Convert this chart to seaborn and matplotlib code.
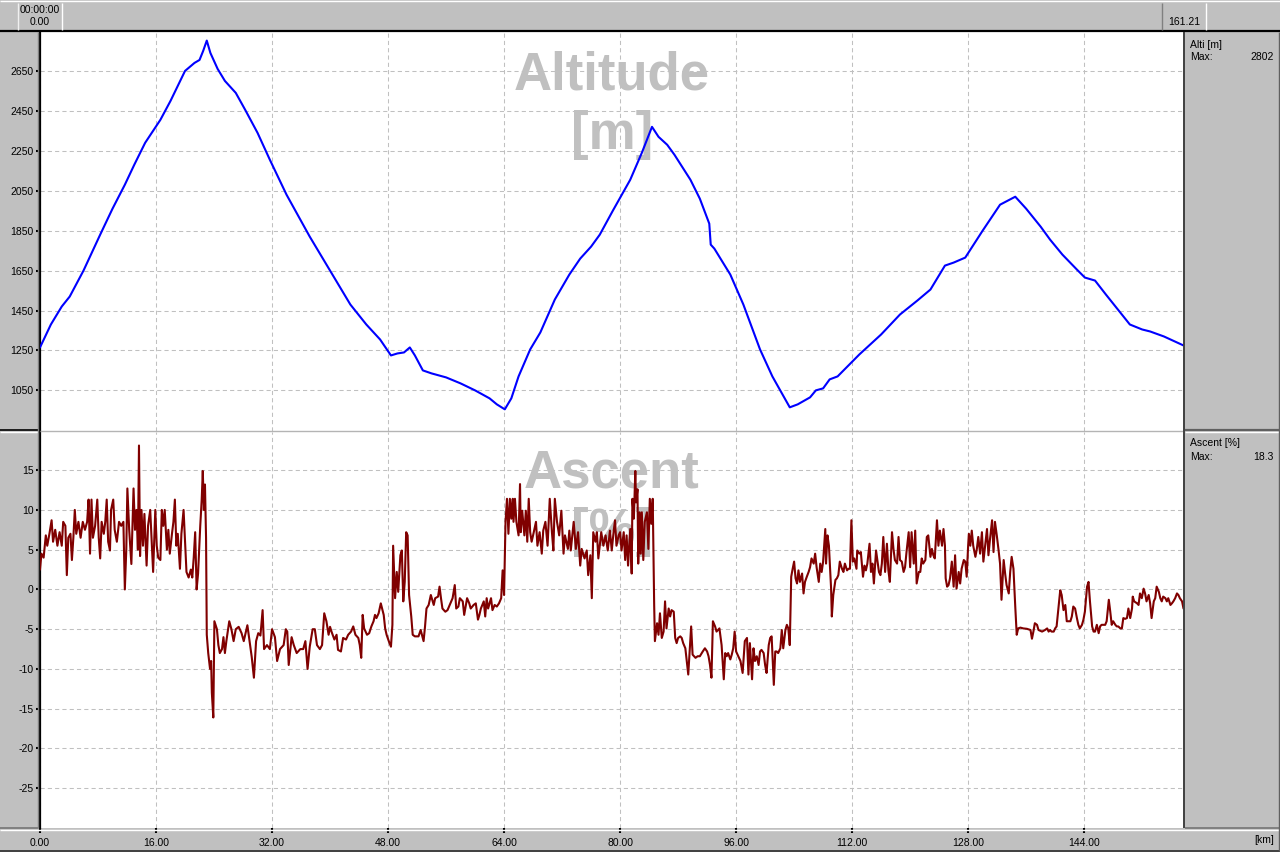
import numpy as np
import pandas as pd
import matplotlib
matplotlib.use("Agg")
import matplotlib.pyplot as plt
import seaborn as sns
from matplotlib.lines import Line2D

# ---------------- data ----------------
alt_km = [0, 1.5, 3, 4.1, 6, 8.3, 10, 11.7, 13, 14.5, 16.6, 18, 20, 21.3, 22.0, 22.5, 23.0,
          23.5, 24.5, 25.5, 27, 28.3, 30, 31.7, 34, 37.2, 40, 42.8, 45, 46.9, 48.4, 49.3,
          50.2, 51.0, 51.7, 52.8, 54, 56, 58, 60, 62, 63, 64.1, 65, 66, 67.6, 69, 71, 73,
          74.5, 76, 77.2, 79, 81.4, 83, 84.4, 85.3, 86.5, 87.5, 89.7, 91, 92.3, 92.5, 93,
          95.2, 97, 99.3, 101, 103.4, 104.5, 106.2, 107, 108, 108.9, 110, 113, 116, 118.6,
          121, 122.8, 124.8, 126, 127.6, 130, 132.4, 134.5, 136, 138, 139.3, 141, 143, 144.1,
          145.5, 147, 150.3, 152, 153.1, 155, 157.7]
alt_m = [1265, 1380, 1470, 1520, 1650, 1830, 1960, 2080, 2180, 2290, 2405, 2500, 2650, 2690,
         2705, 2750, 2802, 2740, 2660, 2600, 2540, 2455, 2340, 2205, 2030, 1820, 1650, 1480,
         1380, 1305, 1225, 1235, 1240, 1265, 1225, 1150, 1135, 1115, 1085, 1050, 1010, 980,
         955, 1010, 1120, 1255, 1340, 1505, 1630, 1710, 1770, 1830, 1950, 2105, 2240, 2370,
         2320, 2280, 2230, 2105, 2010, 1885, 1780, 1760, 1630, 1480, 1255, 1120, 965, 980,
         1015, 1050, 1060, 1105, 1120, 1230, 1330, 1430, 1500, 1555, 1675, 1690, 1715, 1850,
         1980, 2020, 1960, 1870, 1805, 1730, 1655, 1615, 1600, 1530, 1380, 1355, 1345, 1320,
         1275]

asc_km = [
    0.0, 0.2, 0.5, 0.8, 1.0, 1.3, 1.6, 1.8, 2.1, 2.4, 2.7, 3.0, 3.2, 3.5, 3.7, 3.9, 4.2, 4.4,
    4.6, 4.8, 5.0, 5.3, 5.6, 5.9, 6.2, 6.5, 6.7, 6.9, 7.1, 7.3, 7.6, 7.9, 8.1, 8.3, 8.5, 8.8,
    9.0, 9.2, 9.4, 9.65, 9.8, 10.1, 10.3, 10.6, 10.9, 11.2, 11.5, 11.7, 11.9, 12.05, 12.3,
    12.6, 12.9, 13.1, 13.3, 13.5, 13.65, 13.8, 14.0, 14.2, 14.4, 14.7, 14.9, 15.2, 15.4, 15.6,
    15.9, 16.1, 16.3, 16.6, 16.8, 17.0, 17.2, 17.5, 17.7, 17.9, 18.2, 18.4, 18.6, 18.8, 19.0,
    19.3, 19.5, 19.8, 20.0, 20.2, 20.5, 20.8, 21.0, 21.2, 21.4, 21.6, 21.8, 22.1, 22.3, 22.45,
    22.6, 22.75, 22.9, 23.0, 23.2, 23.45, 23.6, 23.7, 23.9, 24.05, 24.4, 24.6, 24.8, 25.1,
    25.3, 25.5, 25.7, 26.1, 26.4, 26.7, 27.0, 27.4, 27.8, 28.1, 28.6, 28.9, 29.2, 29.5, 29.8,
    30.1, 30.4, 30.7, 30.9, 31.3, 31.7, 32.0, 32.4, 32.7, 33.1, 33.6, 33.9, 34.1, 34.3, 34.7,
    35.0, 35.4, 35.9, 36.3, 36.6, 36.9, 37.2, 37.6, 37.9, 38.2, 38.6, 38.9, 39.2, 39.5, 39.8,
    40.0, 40.2, 40.6, 40.9, 41.1, 41.5, 41.8, 42.2, 42.5, 42.9, 43.2, 43.5, 43.9, 44.1, 44.3,
    44.5, 44.7, 45.1, 45.4, 45.7, 46.0, 46.2, 46.4, 46.7, 47.0, 47.4, 47.6, 47.8, 48.1, 48.4,
    48.6, 48.7, 48.97, 49.2, 49.4, 49.7, 49.9, 50.1, 50.3, 50.5, 50.7, 50.9, 51.2, 51.4, 51.7,
    52.2, 52.5, 52.9, 53.1, 53.3, 53.6, 53.9, 54.3, 54.5, 54.9, 55.1, 55.3, 55.5, 55.9, 56.2,
    56.6, 56.9, 57.2, 57.4, 57.7, 57.9, 58.3, 58.5, 58.9, 59.2, 59.4, 59.8, 60.1, 60.4, 60.6,
    60.8, 61.2, 61.4, 61.6, 61.8, 62.2, 62.4, 62.7, 63.0, 63.3, 63.6, 63.8, 64.0, 64.2, 64.4,
    64.6, 64.8, 65.0, 65.2, 65.3, 65.5, 65.7, 66.0, 66.2, 66.3, 66.5, 66.8, 67.0, 67.2, 67.4,
    67.6, 67.8, 68.0, 68.4, 68.6, 68.9, 69.2, 69.4, 69.7, 70.0, 70.3, 70.6, 70.8, 71.0, 71.3,
    71.6, 71.9, 72.2, 72.4, 72.8, 73.0, 73.2, 73.6, 73.9, 74.2, 74.5, 74.7, 75.1, 75.4, 75.6,
    75.9, 76.1, 76.3, 76.6, 76.8, 77.0, 77.4, 77.7, 78.0, 78.3, 78.6, 78.85, 79.1, 79.3, 79.5,
    79.8, 80.0, 80.2, 80.5, 80.7, 80.9, 81.1, 81.4, 81.6, 81.7, 81.9, 82.1, 82.2, 82.4, 82.5,
    82.7, 82.85, 83.0, 83.2, 83.4, 83.7, 83.9, 84.1, 84.3, 84.5, 84.7, 84.8, 85.1, 85.3, 85.5,
    85.75, 86.0, 86.2, 86.4, 86.7, 86.9, 87.1, 87.4, 87.6, 87.8, 88.0, 88.3, 88.5, 88.7, 89.0,
    89.2, 89.4, 89.7, 89.8, 90.0, 90.4, 90.7, 91.0, 91.4, 91.7, 92.0, 92.2, 92.4, 92.6, 92.8,
    93.1, 93.3, 93.7, 94.0, 94.3, 94.5, 94.7, 94.9, 95.2, 95.4, 95.6, 95.8, 96.0, 96.3, 96.6,
    96.9, 97.2, 97.5, 97.7, 97.9, 98.2, 98.4, 98.6, 98.85, 99.1, 99.3, 99.5, 99.8, 100.0,
    100.2, 100.5, 100.7, 100.9, 101.2, 101.4, 101.6, 101.8, 102.1, 102.3, 102.5, 102.8, 103.0,
    103.2, 103.4, 103.6, 103.8, 104.0, 104.2, 104.4, 104.6, 104.8, 105.1, 105.3, 105.5,
    105.75, 106.0, 106.2, 106.4, 106.7, 106.9, 107.1, 107.4, 107.6, 107.8, 108.0, 108.3,
    108.4, 108.6, 108.8, 109.1, 109.2, 109.4, 109.7, 109.9, 110.1, 110.3, 110.6, 110.8, 111.0,
    111.3, 111.5, 111.7, 111.9, 112.1, 112.3, 112.6, 112.7, 113.0, 113.2, 113.5, 113.7, 113.9,
    114.1, 114.4, 114.6, 114.8, 115.0, 115.3, 115.5, 115.7, 115.9, 116.1, 116.3, 116.55,
    116.8, 117.0, 117.2, 117.5, 117.7, 117.9, 118.2, 118.4, 118.6, 118.85, 119.1, 119.3,
    119.5, 119.8, 120.0, 120.2, 120.5, 120.7, 120.9, 121.2, 121.4, 121.6, 121.8, 122.1, 122.3,
    122.5, 122.8, 123.0, 123.2, 123.4, 123.7, 123.9, 124.1, 124.4, 124.6, 124.8, 124.9, 125.1,
    125.3, 125.5, 125.75, 126.0, 126.2, 126.4, 126.7, 126.9, 127.1, 127.4, 127.6, 127.8,
    128.0, 128.1, 128.3, 128.5, 128.7, 129.0, 129.2, 129.4, 129.65, 129.9, 130.1, 130.3,
    130.6, 130.8, 131.0, 131.3, 131.5, 131.7, 131.95, 132.2, 132.4, 132.6, 132.9, 133.1,
    133.3, 133.6, 133.8, 134.0, 134.25, 134.5, 134.7, 134.9, 135.2, 135.6, 136.1, 136.6,
    136.8, 137.0, 137.2, 137.5, 137.7, 138.2, 138.6, 138.9, 139.1, 139.3, 139.5, 139.8, 140.0,
    140.2, 140.5, 140.7, 140.9, 141.15, 141.4, 141.6, 141.85, 142.1, 142.3, 142.5, 142.75,
    143.0, 143.2, 143.4, 143.7, 143.9, 144.1, 144.4, 144.6, 144.8, 145.1, 145.3, 145.5,
    145.75, 146.0, 146.2, 146.4, 146.7, 146.9, 147.1, 147.4, 147.6, 147.8, 148.0, 148.3,
    148.5, 148.7, 149.0, 149.2, 149.4, 149.65, 149.9, 150.1, 150.35, 150.6, 150.7, 150.9,
    151.3, 151.5, 151.7, 151.95, 152.2, 152.4, 152.6, 152.9, 153.1, 153.3, 153.6, 153.8,
    154.0, 154.3, 154.5, 154.7, 154.9, 155.2, 155.4, 155.6, 155.9, 156.1, 156.3, 156.55,
    156.8, 157.0, 157.2, 157.5, 157.7]
asc_pct = [
    2.5, 4.5, 4.0, 6.8, 5.5, 7.0, 8.7, 6.0, 7.5, 5.5, 7.2, 5.5, 8.5, 8.0, 1.8, 6.5, 7.0, 3.7,
    6.5, 10.0, 7.0, 8.5, 6.5, 8.5, 7.5, 8.5, 11.3, 4.5, 11.3, 6.5, 8.0, 11.3, 6.5, 3.9, 8.5, 7.0,
    8.5, 11.3, 6.0, 4.9, 10.0, 11.3, 7.5, 6.0, 8.5, 8.0, 8.5, 0.0, 5.0, 12.7, 7.5,
    3.2, 12.7, 7.5, 10.0, 5.0, 18.1, 4.2, 10.0, 5.5, 9.5, 3.0, 8.0, 10.0, 6.0, 2.2,
    10.0, 5.5, 4.0, 3.7, 10.0, 8.0, 10.0, 5.0, 7.5, 4.5, 7.0, 8.5, 11.3, 5.5, 7.0,
    2.6, 7.0, 10.0, 6.0, 2.2, 1.5, 2.5, 1.5, 4.0, 7.2, 0.0, 2.0, 8.0, 11.3, 14.9,
    10.0, 13.2, 6.5, -5.7, -8.0, -10.0, -9.0, -13.0, -16.1, -4.0, -5.0, -7.0, -8.0, -7.5,
    -6.0, -8.0, -6.5, -4.0, -5.0, -6.5, -5.0, -4.7, -5.5, -6.5, -4.5, -6.5, -8.5, -11.1, -6.5,
    -5.5, -5.8, -2.6, -7.5, -7.0, -7.5, -5.0, -6.0, -9.0, -7.5, -7.0, -5.0, -5.3, -9.5, -6.0,
    -7.0, -8.0, -7.5, -7.5, -6.5, -10.0, -7.2, -5.0, -5.0, -7.0, -7.5, -7.0, -3.0, -4.0, -5.7,
    -4.7, -5.3, -6.3, -5.7, -7.6, -7.8, -6.1, -6.3, -5.7, -5.3, -4.65, -5.7, -6.1, -7.0, -8.6,
    -3.2, -4.9, -5.7, -5.5, -4.65, -4.0, -3.2, -3.6, -3.0, -1.75, -3.2, -4.9, -5.7, -6.5, -7.2,
    -4.45, 5.5, -1.1, 2.2, -0.3, 4.3, 4.9, -1.5, 0.95, 7.2, 6.8, -0.7, -3.4, -5.7, -5.9,
    -5.9, -5.1, -6.5, -4.65, -2.4, -1.95, -0.7, -1.95, -1.1, -0.9, 0.35, -1.1, -2.4, -2.8, -2.6,
    -1.75, -1.1, 0.55, -2.4, -2.15, -1.1, -1.5, -3.2, -1.1, -1.75, -2.4, -1.95, -1.75, -3.8, -3.2,
    -2.4, -1.5, -3.4, -1.1, -2.4, -1.1, -2.6, -1.95, -2.15, -1.75, -1.1, 2.4, -0.7, 8.5, 11.4,
    7.0, 11.4, 8.9, 11.4, 8.5, 11.4, 8.5, 6.8, 13.25, 7.2, 9.9, 6.8, 9.9, 6.0, 11.4,
    7.2, 6.0, 6.8, 8.5, 5.5, 7.2, 4.5, 7.4, 8.5, 5.5, 11.4, 7.2, 4.9, 11.4, 8.5,
    6.8, 9.9, 4.5, 6.8, 5.1, 7.4, 4.9, 8.5, 5.1, 7.2, 3.0, 5.1, 3.9, 4.9, 1.8,
    4.3, -1.1, 7.2, 6.0, 7.2, 3.9, 7.2, 5.5, 6.8, 4.9, 7.4, 4.9, 7.2, 8.7, 5.5,
    6.8, 7.2, 4.9, 7.2, 3.7, 6.8, 3.0, 7.6, 2.0, 11.4, 8.9, 14.9, 10.95, 12.6, 3.25,
    9.7, 4.5, 9.7, 3.7, 8.5, 9.7, 5.1, 11.4, 8.25, 11.4, -1.95, -6.5, -4.25, -5.7, -3.0,
    -6.1, -5.3, -1.5, -4.9, -2.4, -3.4, -2.6, -2.8, -6.1, -6.75, -6.1, -5.9, -6.1, -6.75, -7.4,
    -9.0, -10.7, -6.3, -4.65, -8.2, -8.6, -8.4, -8.4, -7.8, -7.4, -7.8, -8.4, -9.5, -11.1, -4.0,
    -4.65, -5.3, -4.9, -7.0, -11.3, -8.0, -8.4, -8.0, -8.8, -8.2, -7.4, -5.3, -7.8, -8.4, -9.0,
    -10.5, -6.5, -6.1, -10.7, -6.75, -11.3, -7.4, -9.0, -8.4, -9.5, -7.8, -7.6, -8.0, -9.5,
    -10.5, -7.0, -6.1, -5.9, -12.0, -7.8, -7.8, -8.0, -7.4, -5.1, -7.4, -5.1, -4.45,
    -4.9, -7.0, 1.6, 2.6, 3.5, 1.4, 0.75, 2.4, 0.95, 2.0, -0.5, 0.95,
    1.6, 2.2, 2.8, 3.9, 3.25, 4.5, 2.8, 0.95, 3.25, 2.2, 3.5, 7.6,
    3.25, 6.8, 5.5, 0.1, -3.4, -0.7, 1.2, 1.4, 1.8, 3.5, 2.6, 2.2, 3.25,
    2.4, 2.6, 2.6, 8.7, 3.5, 3.9, 2.6, 4.9, 4.5, 4.7, 1.6, 3.0, 2.4,
    3.25, 5.75, 2.2, 3.25, 0.75, 4.9, 3.5, 2.2, 1.8, 3.25, 6.6, 2.2,
    5.75, 2.4, 0.95, 7.2, 5.1, 3.7, 3.25, 6.6, 3.7, 3.5, 2.2, 2.8,
    4.7, 7.2, 2.8, 7.2, 3.25, 7.4, 0.75, 2.2, 2.2, 3.9, 3.25, 3.7, 6.6,
    6.8, 4.1, 5.1, 4.3, 3.9, 8.7, 5.5, 7.4, 5.5, 7.6, 5.5, 1.4, 0.35,
    0.55, 1.4, 3.5, 0.35, 4.3, 0.1, 2.2, 0.75, 2.6, 3.7, 3.5, 1.6,
    5.5, 7.0, 5.5, 7.4, 5.5, 4.1, 5.1, 6.6, 4.5, 7.2, 3.5, 5.1,
    7.6, 4.3, 6.2, 8.7, 4.7, 8.5, 6.8, 4.9, 3.25, -1.3, 3.7, 2.0,
    0.55, -0.5, 2.2, 4.1, 2.6, -2.2, -5.7, -4.9, -4.8, -4.9, -4.95, -5.1,
    -6.2, -5.3, -4.25, -4.45, -5.1, -5.3, -5.1, -4.9, -5.3, -5.1, -5.3, -5.3, -4.9,
    -4.65, -1.95, -0.1, -0.7, -2.6, -1.95, -4.0, -4.0, -4.0, -3.4, -2.15, -2.4,
    -3.6, -4.45, -4.9, -4.45, -3.8, -2.8, 0.35, 0.95, -1.5, -4.65, -5.3, -5.3,
    -4.45, -5.5, -4.65, -4.45, -4.45, -4.45, -4.0, -1.3, -2.8, -4.45, -4.0, -4.45,
    -4.65, -4.65, -4.9, -4.9, -3.6, -3.7, -3.6, -2.4, -3.6, -2.4, -0.9, -1.5,
    -1.75, -1.95, -0.5, -1.1, 0.1, -0.5, -1.5, -0.7, -1.75, -3.6, -1.5, -1.1,
    0.35, -0.3, -1.1, -1.5, -0.9, -1.1, -1.5, -1.1, -1.95, -1.75, -1.5, -1.1,
    -0.5, -0.7, -1.1, -1.5, -2.4]

alt_ticks = [1050, 1250, 1450, 1650, 1850, 2050, 2250, 2450, 2650]
asc_ticks = [-25, -20, -15, -10, -5, 0, 5, 10, 15]
km_ticks = [0, 16, 32, 48, 64, 80, 96, 112, 128, 144]
km_max = 157.7
start_time = "00:00:00"
start_dist = "0.00"
total_dist = "161.21"
alt_label = "Alti [m]"
alt_max = "2802"
asc_label = "Ascent [%]"
asc_max = "18.3"

# ---------------- figure ----------------
sns.set_style("white")
plt.rcParams['font.family'] = ['Liberation Sans', 'DejaVu Sans']

W, H = 1280, 852
GRAY = '#c0c0c0'
fig = plt.figure(figsize=(12.8, 8.52), dpi=100, facecolor=GRAY)


def add_ax(x0, y0, x1, y1):
    return fig.add_axes([x0 / W, 1 - y1 / H, (x1 - x0) / W, (y1 - y0) / H])


def hline(y, x0, x1, color, lw):
    fig.add_artist(Line2D([x0 / W, x1 / W], [1 - y / H, 1 - y / H], color=color, lw=lw,
                          transform=fig.transFigure, solid_capstyle='butt'))


def vline(x, y0, y1, color, lw):
    fig.add_artist(Line2D([x / W, x / W], [1 - y0 / H, 1 - y1 / H], color=color, lw=lw,
                          transform=fig.transFigure, solid_capstyle='butt'))


def ftext(x, y, s, ha='left', size=7.5, **kw):
    fig.text(x / W, 1 - y / H, s, ha=ha, va='center', fontsize=size, color='black', **kw)


ax1 = add_ax(40, 32, 1183.5, 430.5)
ax2 = add_ax(40, 432, 1183.5, 828)

df_alt = pd.DataFrame({'km': alt_km, 'alt': alt_m})
df_asc = pd.DataFrame({'km': asc_km, 'asc': asc_pct})

for ax in (ax1, ax2):
    ax.set_facecolor('white')
    ax.set_axisbelow(True)
    ax.grid(True, color=GRAY, linestyle=(0, (4, 3)), linewidth=0.75, zorder=0.5)
    ax.set_xlim(0, km_max)
    ax.set_xticks(km_ticks)
    for s in ('top', 'right', 'bottom'):
        ax.spines[s].set_visible(False)
    ax.spines['left'].set_color('black')
    ax.spines['left'].set_linewidth(1.6)
    ax.tick_params(axis='y', direction='out', length=3, width=1.5, pad=1.5,
                   labelsize=7.5, colors='black', left=True)

sns.lineplot(data=df_alt, x='km', y='alt', ax=ax1, color='#0000ff', linewidth=1.5,
             estimator=None, sort=False, zorder=3)
sns.lineplot(data=df_asc, x='km', y='asc', ax=ax2, color='#800000', linewidth=1.5,
             estimator=None, sort=False, zorder=3)

ax1.set_ylim(849, 2845)
ax1.set_yticks(alt_ticks)
ax1.set_yticklabels([str(t) for t in alt_ticks])
ax1.tick_params(axis='x', length=0, labelbottom=False)
ax1.set_xlabel('')
ax1.set_ylabel('')

ax2.set_ylim(-30.0, 19.8)
ax2.set_yticks(asc_ticks)
ax2.set_yticklabels([str(t) for t in asc_ticks])
ax2.set_xticklabels([f"{t:.2f}" for t in km_ticks])
ax2.tick_params(axis='x', direction='out', length=3.5, width=1.5, pad=3.5,
                labelsize=7.5, colors='black', bottom=True)
ax2.set_xlabel('')
ax2.set_ylabel('')

# watermark titles (behind the data lines)
wm = dict(ha='center', va='baseline', fontsize=38, fontweight='bold', color=GRAY,
          transform=fig.transFigure, zorder=1, clip_on=False)
ax1.text(612 / W, 1 - 90 / H, 'Altitude', **wm)
ax1.text(612 / W, 1 - 149 / H, '[m]', **wm)
ax2.text(612 / W, 1 - 487 / H, 'Ascent', **wm)
ax2.text(612 / W, 1 - 546 / H, '[%]', **wm)

# ---------------- frame / bevels ----------------
hline(1, 0, W, 'white', 1)
hline(31, 0, W, 'black', 1.6)
vline(18, 3, 30, '#f0f0f0', 1)
vline(62, 3, 30, 'white', 1)
vline(1162, 3, 30, '#808080', 1)
vline(1206, 3, 30, 'white', 1)

hline(430.7, 40, 1184, '#b4b4b4', 1)
hline(429.5, 0, 38, 'black', 1.2)
hline(431.5, 0, 38, 'white', 1)
hline(429.5, 1185, W, '#606060', 1.6)
hline(431.8, 1185, W, 'white', 1)
vline(37.5, 32, 828, '#808080', 1)
vline(1184.3, 32, 828, '#404040', 1.4)
hline(827.5, 0, 38, '#808080', 1.4)
hline(827.5, 1185, W, '#808080', 1.4)
hline(829.5, 0, W, 'white', 1)
hline(850.5, 0, W, '#404040', 1.4)
vline(1279, 32, 851, '#606060', 1)

# ---------------- texts ----------------
ftext(20, 10, start_time)
ftext(40, 22, start_dist, ha='center')
ftext(1184, 22, total_dist, ha='center')
ftext(1190, 45, alt_label)
ftext(1190, 57, 'Max:')
ftext(1274, 57, alt_max, ha='right')
ftext(1190, 443, asc_label)
ftext(1190, 457, 'Max:')
ftext(1274, 457, asc_max, ha='right')
ftext(1274, 840, '[km]', ha='right')

fig.savefig('out.png', dpi=100, facecolor=GRAY)
